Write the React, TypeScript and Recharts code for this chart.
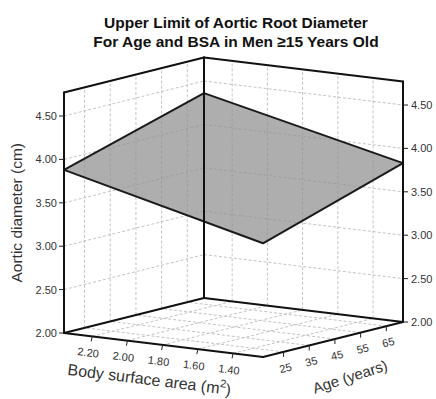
import { ScatterChart, Scatter, XAxis, YAxis } from "recharts";

// ─── Data ───────────────────────────────────────────────────────────────────

const bsaTicks = [2.2, 2.0, 1.8, 1.6, 1.4];
const ageTicks = [25, 35, 45, 55, 65];
const diameterTicks = [2.0, 2.5, 3.0, 3.5, 4.0, 4.5];

// box extents (m², years, cm)
const bsaRange = [1.23, 2.36];
const ageRange = [17, 71.5];
const diameterRange = [2.0, 4.77];

// corners of the upper-limit surface: left, back, right, front
const surfaceBsa = [2.36, 2.36, 1.23, 1.23];
const surfaceAge = [17, 71.5, 71.5, 17];
const surfaceDiameter = [3.88, 4.36, 3.83, 3.31];

// ─── Projection (3D -> plot plane) ──────────────────────────────────────────

const W = 436;
const H = 399;
const ORIGIN = { x: 204, y: 298 }; // back floor corner
const BSA_VEC = { x: 199, y: 24 }; // BSA max -> min
const AGE_VEC = { x: -140, y: 35 }; // age max -> min
const Z_SCALE = 86.8; // px per cm

const FONT = "'Liberation Sans', Arial, sans-serif";

function project(bsa: number, age: number, z: number, label?: string) {
  const u = (bsaRange[1] - bsa) / (bsaRange[1] - bsaRange[0]);
  const v = (ageRange[1] - age) / (ageRange[1] - ageRange[0]);
  return {
    x: ORIGIN.x + u * BSA_VEC.x + v * AGE_VEC.x,
    y: ORIGIN.y + u * BSA_VEC.y + v * AGE_VEC.y - (z - diameterRange[0]) * Z_SCALE,
    label,
  };
}

const [bMin, bMax] = bsaRange;
const [aMin, aMax] = ageRange;
const [zMin, zMax] = diameterRange;

const noShape = () => <g />;

const edgeStyle = { stroke: "#111", strokeWidth: 2, strokeLinecap: "round" };
const gridStyle = { stroke: "#c4c4c4", strokeWidth: 1, strokeDasharray: "3 2" };
const tickStyle = { stroke: "#222", strokeWidth: 1 };

type Pt = { x: number; y: number; label?: string };

function seg(key: string, a: Pt, b: Pt, style: object) {
  return (
    <Scatter
      key={key}
      data={[a, b]}
      line={style}
      shape={noShape}
      isAnimationActive={false}
      legendType="none"
    />
  );
}

function textShape(opts: {
  dx?: number;
  dy?: number;
  angle?: number;
  anchor?: string;
  size?: number;
  color?: string;
}) {
  const { dx = 0, dy = 0, angle = 0, anchor = "middle", size = 11, color = "#333" } = opts;
  return (props: any) => {
    const x = props.cx + dx;
    const y = props.cy + dy;
    const label: string = props.payload.label;
    const sup = label.endsWith("(m2)");
    return (
      <text
        x={x}
        y={y}
        transform={`rotate(${angle} ${x} ${y})`}
        textAnchor={anchor}
        dominantBaseline="central"
        fontFamily={FONT}
        fontSize={size}
        fill={color}
      >
        {sup ? (
          <>
            {label.slice(0, -2)}
            <tspan dy={-5} fontSize={size * 0.7}>
              2
            </tspan>
            <tspan dy={5}>)</tspan>
          </>
        ) : (
          label
        )}
      </text>
    );
  };
}

// ─── Chart ──────────────────────────────────────────────────────────────────

export default function App() {
  const gridLines = [
    // left wall
    ...diameterTicks.slice(1).map((z) =>
      seg(`lw-z${z}`, project(bMax, aMin, z), project(bMax, aMax, z), gridStyle)
    ),
    ...ageTicks.map((a) =>
      seg(`lw-a${a}`, project(bMax, a, zMin), project(bMax, a, zMax), gridStyle)
    ),
    // right wall
    ...diameterTicks.slice(1).map((z) =>
      seg(`rw-z${z}`, project(bMax, aMax, z), project(bMin, aMax, z), gridStyle)
    ),
    ...bsaTicks.map((b) =>
      seg(`rw-b${b}`, project(b, aMax, zMin), project(b, aMax, zMax), gridStyle)
    ),
    // floor
    ...bsaTicks.map((b) =>
      seg(`fl-b${b}`, project(b, aMin, zMin), project(b, aMax, zMin), gridStyle)
    ),
    ...ageTicks.map((a) =>
      seg(`fl-a${a}`, project(bMin, a, zMin), project(bMax, a, zMin), gridStyle)
    ),
  ];

  const surface = surfaceBsa.map((b, i) =>
    project(b, surfaceAge[i], surfaceDiameter[i])
  );
  surface.push(surface[0]);

  const edges = [
    seg("e-l", project(bMax, aMin, zMin), project(bMax, aMin, zMax), edgeStyle),
    seg("e-b", project(bMax, aMax, zMin), project(bMax, aMax, zMax), edgeStyle),
    seg("e-r", project(bMin, aMax, zMin), project(bMin, aMax, zMax), edgeStyle),
    seg("e-tl", project(bMax, aMin, zMax), project(bMax, aMax, zMax), edgeStyle),
    seg("e-tr", project(bMax, aMax, zMax), project(bMin, aMax, zMax), edgeStyle),
    seg("e-fl", project(bMax, aMin, zMin), project(bMax, aMax, zMin), edgeStyle),
    seg("e-fr", project(bMax, aMax, zMin), project(bMin, aMax, zMin), edgeStyle),
    seg("e-fbsa", project(bMax, aMin, zMin), project(bMin, aMin, zMin), edgeStyle),
    seg("e-fage", project(bMin, aMin, zMin), project(bMin, aMax, zMin), edgeStyle),
  ];

  const ticks = [
    ...diameterTicks.map((z) => {
      const p = project(bMax, aMin, z);
      return seg(`t-l${z}`, p, { x: p.x - 5, y: p.y }, tickStyle);
    }),
    ...diameterTicks.map((z) => {
      const p = project(bMin, aMax, z);
      return seg(`t-r${z}`, p, { x: p.x + 5, y: p.y }, tickStyle);
    }),
    ...bsaTicks.map((b) => {
      const p = project(b, aMin, zMin);
      return seg(`t-b${b}`, p, { x: p.x - 1, y: p.y + 5 }, tickStyle);
    }),
    ...ageTicks.map((a) => {
      const p = project(bMin, a, zMin);
      return seg(`t-a${a}`, p, { x: p.x, y: p.y + 5 }, tickStyle);
    }),
  ];

  const leftLabels = diameterTicks.map((z) => project(bMax, aMin, z, z.toFixed(2)));
  const rightLabels = diameterTicks.map((z) => project(bMin, aMax, z, z.toFixed(2)));
  const bsaLabels = bsaTicks.map((b) => project(b, aMin, zMin, b.toFixed(2)));
  const ageLabels = ageTicks.map((a) => project(bMin, a, zMin, String(a)));

  const bsaTitle = [project((bMin + bMax) / 2 + 0.12, aMin, zMin, "Body surface area (m2)")];
  const ageTitle = [project(bMin, (aMin + aMax) / 2, zMin, "Age (years)")];
  const zTitle = [project(bMax, aMin, (zMin + zMax) / 2, "Aortic diameter (cm)")];

  return (
    <div
      style={{
        position: "absolute",
        left: 0,
        top: 0,
        width: W,
        height: H,
        background: "#fff",
        fontFamily: FONT,
      }}
    >
      <div
        style={{
          position: "absolute",
          left: 0,
          width: 472,
          top: 13,
          textAlign: "center",
          fontWeight: "bold",
          fontSize: 15.5,
          lineHeight: "19px",
          color: "#111",
        }}
      >
        Upper Limit of Aortic Root Diameter
        <br />
        For Age and BSA in Men ≥15 Years Old
      </div>
      <ScatterChart width={W} height={H} margin={{ top: 0, right: 0, bottom: 0, left: 0 }}>
        <XAxis type="number" dataKey="x" domain={[0, W]} allowDataOverflow hide />
        <YAxis type="number" dataKey="y" domain={[0, H]} allowDataOverflow reversed hide />

        {gridLines}

        <Scatter
          data={surface}
          line={{
            stroke: "#1a1a1a",
            strokeWidth: 2,
            fill: "#8f8f8f",
            fillOpacity: 0.72,
            strokeLinejoin: "round",
          }}
          shape={noShape}
          isAnimationActive={false}
          legendType="none"
        />

        {edges}
        {ticks}

        <Scatter data={leftLabels} shape={textShape({ dx: -7, anchor: "end" })} isAnimationActive={false} />
        <Scatter data={rightLabels} shape={textShape({ dx: 8, anchor: "start" })} isAnimationActive={false} />
        <Scatter data={bsaLabels} shape={textShape({ dx: -4, dy: 16, angle: 7 })} isAnimationActive={false} />
        <Scatter data={ageLabels} shape={textShape({ dx: 2, dy: 16, angle: -14 })} isAnimationActive={false} />
        <Scatter data={bsaTitle} shape={textShape({ dx: 7, dy: 37, angle: 7, size: 16 })} isAnimationActive={false} />
        <Scatter data={ageTitle} shape={textShape({ dx: 17, dy: 37, angle: -18, size: 15 })} isAnimationActive={false} />
        <Scatter data={zTitle} shape={textShape({ dx: -47, angle: -90, size: 15.5 })} isAnimationActive={false} />
      </ScatterChart>
    </div>
  );
}
